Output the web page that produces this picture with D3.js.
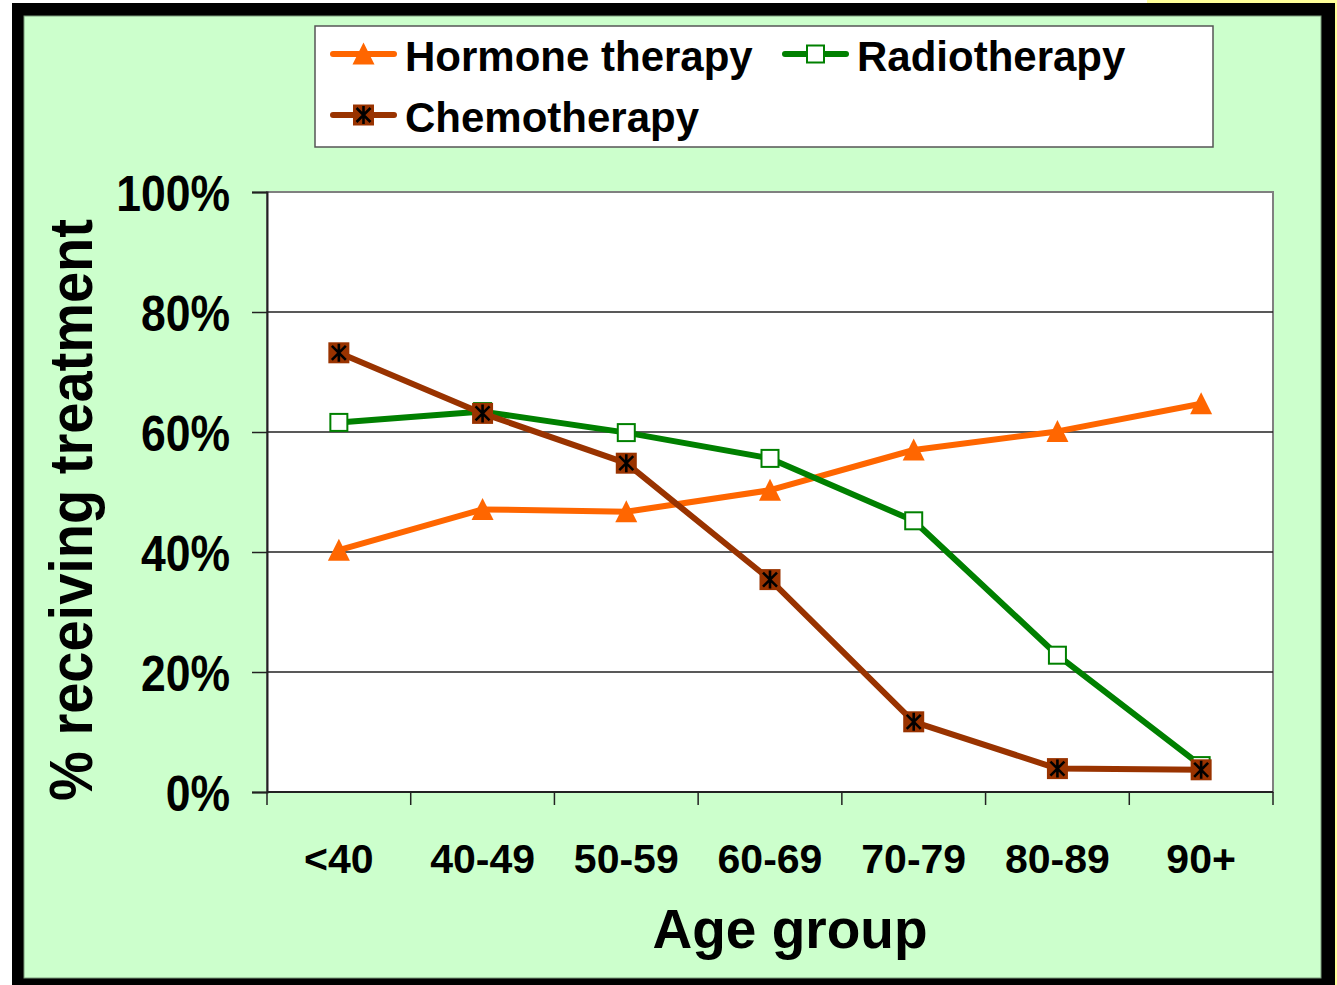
<!DOCTYPE html>
<html>
<head>
<meta charset="utf-8">
<script src="https://cdn.jsdelivr.net/npm/d3@7"></script>
<style>
  body { margin: 0; background: white; }
  text { font-family: "Liberation Sans", Arial, sans-serif; font-weight: bold; }
</style>
</head>
<body>
<div id="viz_area"></div>
<script>
var width = 1337
var height = 985

// values, % receiving treatment per age group
var categories = ["<40", "40-49", "50-59", "60-69", "70-79", "80-89", "90+"]
var hormone = [40.3, 47.1, 46.7, 50.3, 57.0, 60.1, 64.7]
var radio = [61.6, 63.4, 59.9, 55.6, 45.2, 22.8, 4.4]
var chemo = [73.2, 63.1, 54.8, 35.4, 11.7, 3.9, 3.7]
var yTicks = [0, 20, 40, 60, 80, 100]

var seriesNames = ["Hormone therapy", "Radiotherapy", "Chemotherapy"]
var seriesColors = ["#ff6600", "#008000", "#993300"]
var seriesMarkers = ["triangle", "square", "star"]

var plot = { left: 267, right: 1273, top: 192, bottom: 792 }

var svg = d3.select("#viz_area")
  .append("svg")
  .attr("width", width)
  .attr("height", height)

// frame
svg.append("rect").attr("x", 1147).attr("y", 0).attr("width", 190).attr("height", 5).attr("fill", "#ffff99")
svg.append("rect").attr("x", 1333).attr("y", 0).attr("width", 4).attr("height", height).attr("fill", "#ffff99")
svg.append("rect").attr("x", 12).attr("y", 3).attr("width", 1323).attr("height", 1000).attr("fill", "black")
svg.append("rect").attr("x", 24).attr("y", 16).attr("width", 1297).attr("height", 962)
  .attr("fill", "#ccffcc").attr("stroke", "#7a9a7a").attr("stroke-width", 1)

var scX = d3.scaleBand()
  .domain(categories)
  .range([plot.left, plot.right])
  .padding(0)

var scY = d3.scaleLinear()
  .domain([0, 100])
  .range([plot.bottom, plot.top])

// plot area
svg.append("rect")
  .attr("x", plot.left).attr("y", plot.top)
  .attr("width", plot.right - plot.left).attr("height", plot.bottom - plot.top)
  .attr("fill", "white")
  .attr("stroke", "#808080")
  .attr("stroke-width", 2)

svg.append("g")
  .selectAll("line")
  .data(yTicks.filter(d => d > 0 && d < 100))
  .enter().append("line")
  .attr("x1", plot.left).attr("x2", plot.right)
  .attr("y1", d => scY(d)).attr("y2", d => scY(d))
  .attr("stroke", "#222")
  .attr("stroke-width", 1.6)

// y axis
var yAx = svg.append("g")
  .attr("transform", `translate(${plot.left},0)`)
  .call(d3.axisLeft(scY).tickValues(yTicks).tickSize(15).tickFormat(d => d + "%"))
yAx.select(".domain").attr("stroke", "#222").attr("stroke-width", 2)
yAx.selectAll(".tick line").attr("stroke", "#222").attr("stroke-width", 1.5)
yAx.selectAll(".tick text")
  .attr("x", null).attr("y", null).attr("dy", null)
  .attr("transform", "translate(-37,18) scale(1,1.14)")
  .attr("text-anchor", "end")
  .attr("fill", "black")
  .style("font-size", "44.5px")

// x axis: labels in the middle of each band, ticks on band edges
var xAx = svg.append("g")
  .attr("transform", `translate(0,${plot.bottom})`)
  .call(d3.axisBottom(scX).tickSize(0))
xAx.select(".domain").remove()
xAx.selectAll(".tick text")
  .attr("y", 81).attr("dy", null)
  .attr("fill", "black")
  .style("font-size", "41px")

svg.append("line")
  .attr("x1", plot.left).attr("x2", plot.right)
  .attr("y1", plot.bottom).attr("y2", plot.bottom)
  .attr("stroke", "#222").attr("stroke-width", 2)

svg.append("g")
  .selectAll("line")
  .data(d3.range(categories.length + 1))
  .enter().append("line")
  .attr("x1", i => plot.left + i * scX.step())
  .attr("x2", i => plot.left + i * scX.step())
  .attr("y1", plot.bottom)
  .attr("y2", plot.bottom + 13)
  .attr("stroke", "#222")
  .attr("stroke-width", 1.5)

// axis titles
svg.append("text")
  .attr("transform", "translate(92,510) rotate(-90) scale(1,1.09)")
  .attr("text-anchor", "middle")
  .style("font-size", "56px")
  .text("% receiving treatment")

svg.append("text")
  .attr("x", 790).attr("y", 948)
  .attr("text-anchor", "middle")
  .style("font-size", "55px")
  .text("Age group")

function drawMarker(g, type, color, cx, cy) {
  if (type == "triangle") {
    g.append("path")
      .attr("d", `M${cx},${cy - 11.5}L${cx + 11},${cy + 10.5}L${cx - 11},${cy + 10.5}Z`)
      .attr("fill", color)
  } else if (type == "square") {
    g.append("rect")
      .attr("x", cx - 8.5).attr("y", cy - 8.5)
      .attr("width", 17).attr("height", 17)
      .attr("fill", "white")
      .attr("stroke", color)
      .attr("stroke-width", 2)
  } else {
    g.append("rect")
      .attr("x", cx - 10.5).attr("y", cy - 10.5)
      .attr("width", 21).attr("height", 21)
      .attr("fill", color)
    g.append("path")
      .attr("d", `M${cx},${cy - 9}V${cy + 9}M${cx - 7},${cy - 7}L${cx + 7},${cy + 7}M${cx + 7},${cy - 7}L${cx - 7},${cy + 7}`)
      .attr("stroke", "black")
      .attr("stroke-width", 2.6)
      .attr("fill", "none")
  }
}

var makeLine = d3.line()
  .x((d, i) => scX(categories[i]) + scX.bandwidth() / 2)
  .y(d => scY(d))

var allSeries = [hormone, radio, chemo]
allSeries.forEach(function (values, s) {
  var g = svg.append("g")
  g.append("path")
    .attr("d", makeLine(values))
    .attr("fill", "none")
    .attr("stroke", seriesColors[s])
    .attr("stroke-width", 6)
    .attr("stroke-linejoin", "round")
  values.forEach(function (v, i) {
    drawMarker(g, seriesMarkers[s], seriesColors[s], scX(categories[i]) + scX.bandwidth() / 2, scY(v))
  })
})

// legend
var legend = svg.append("g").attr("id", "legend")
legend.append("rect")
  .attr("x", 315).attr("y", 26)
  .attr("width", 898).attr("height", 121)
  .attr("fill", "white")
  .attr("stroke", "#555")
  .attr("stroke-width", 1.5)

var legendPos = [
  { x: 330, y: 54 },
  { x: 782, y: 54 },
  { x: 330, y: 115 }
]

seriesNames.forEach(function (name, s) {
  var p = legendPos[s]
  legend.append("line")
    .attr("x1", p.x + 3).attr("x2", p.x + 64)
    .attr("y1", p.y).attr("y2", p.y)
    .attr("stroke", seriesColors[s])
    .attr("stroke-width", 6)
    .attr("stroke-linecap", "round")
  drawMarker(legend, seriesMarkers[s], seriesColors[s], p.x + 33.5, p.y)
  legend.append("text")
    .attr("x", p.x + 75)
    .attr("y", p.y + 17)
    .attr("fill", "black")
    .style("font-size", "42px")
    .text(name)
})
</script>
</body>
</html>
